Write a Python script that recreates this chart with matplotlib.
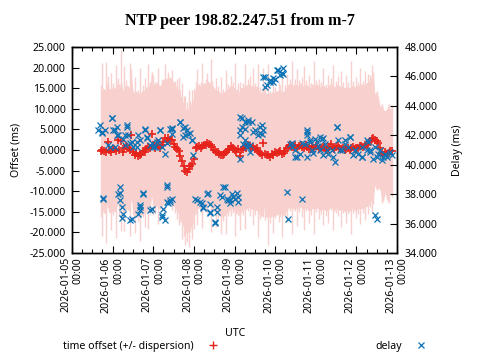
import numpy as np
import pandas as pd
import matplotlib
matplotlib.use('Agg')
import matplotlib.pyplot as plt
import matplotlib.dates as mdates
from matplotlib.lines import Line2D
from matplotlib.ticker import FormatStrFormatter, MultipleLocator

plt.rcParams['font.family'] = ['Noto Sans', 'DejaVu Sans']
plt.rcParams['font.size'] = 7.6

start = pd.Timestamp('2026-01-05 00:00')

# offset samples, hourly, hours since 2026-01-05 00:00 UTC
offset_hours = list(range(17, 190))
offset_ms = [
    -0.3, 0.1, -0.2, -0.6, 2.0, -0.1, -0.4, 0.3, 0.2, -0.3,    # 17-26
    2.5, 0.0, 2.3, -0.5, 0.4, 0.9, 0.5, 0.1, 3.6, -0.6,        # 27-36
    -1.2, -0.8, -1.5, -1.1, -1.0, -0.3, -0.6, 0.2, 0.8, 0.4,   # 37-46
    3.9, 1.3, 0.5, 1.6, 1.0, 0.6, 1.2, 2.0, 2.8, 2.2,          # 47-56
    3.0, 2.4, 2.5, 1.4, 0.8, 0.2, -0.3, -1.5, -2.7, -3.8,      # 57-66
    -5.0, -5.3, -4.5, -4.0, -3.5, -2.2, 0.5, 0.7, 0.9, 0.6,    # 67-76
    1.0, 1.2, 1.3, 1.8, 1.5, 1.1, 0.8, 0.1, -0.6, -0.4,        # 77-86
    -0.9, -1.3, -1.2, -0.9, -0.5, 0.0, 0.3, 0.9, 0.6, 0.1,     # 87-96
    -0.5, 0.2, -1.5, 0.0, 0.3, 0.8, 0.6, 1.2, 1.0, 0.6,        # 97-106
    0.8, 0.2, 0.5, -0.2, -0.8, -1.1, 1.8, -0.9, -1.3, -1.1,    # 107-116
    -1.6, -1.0, -1.2, -0.6, -0.8, -0.4, -0.3, -1.0, -0.8, -0.2,  # 117-126
    0.5, 1.0, 1.3, 0.7, 0.8, 1.2, 0.6, 0.9, 1.2, 0.7,          # 127-136
    0.5, 1.1, 0.8, 0.2, 0.3, 0.9, 0.6, 1.0, 0.9, 0.3,          # 137-146
    0.4, 0.8, 0.6, 0.1, 0.2, 0.7, 1.5, 0.6, 0.3, 0.8,          # 147-156
    1.0, 0.5, 0.2, 0.6, 0.0, 0.3, 0.4, 0.1, 0.6, 0.8,          # 157-166
    0.3, 0.6, 0.5, 1.0, 0.9, 0.7, 1.1, 1.3, 1.5, 2.2,          # 167-176
    2.7, 3.0, 2.5, 2.2, 1.8, 0.5, -0.8, -1.2, -0.5, -1.0,      # 177-186
    -0.8, -0.2, -0.3,                                          # 187-189
]
dispersion_ms = [
    16, 21, 15, 22, 16, 15, 19, 16, 15, 21,
    15, 16, 22, 15, 20, 16, 15, 21, 16, 15,
    19, 15, 16, 21, 15, 16, 18, 15, 20, 16,
    15, 17, 16, 15, 19, 15, 16, 15, 18, 15,
    16, 15, 17, 15, 16, 17, 18, 16, 19, 17,
    18, 17, 19, 16, 18, 17, 16, 19, 15, 16,
    20, 15, 16, 17, 15, 21, 16, 15, 18, 16,
    15, 19, 16, 15, 20, 16, 15, 17, 16, 21,
    15, 16, 18, 15, 16, 20, 15, 16, 17, 15,
    19, 16, 15, 21, 16, 15, 18, 16, 15, 22,
    16, 15, 19, 16, 15, 17, 16, 20, 15, 16,
    18, 15, 16, 21, 15, 16, 19, 16, 15, 17,
    20, 16, 15, 18, 16, 15, 21, 16, 15, 17,
    16, 19, 15, 16, 18, 15, 16, 20, 15, 16,
    17, 15, 19, 16, 15, 18, 16, 15, 21, 16,
    15, 17, 16, 19, 15, 16, 18, 15, 17, 16,
    18, 16, 11, 12, 11, 10, 12, 11, 10, 11,
    12, 10, 11,
]

# round trip delay samples (hours since start, ms)
delay_hours = [
    16.5, 17.5, 19.5, 22.5, 23.5, 21.4, 24.4, 26.4, 27.4, 25.4,
    30.3, 32.3, 33.3, 35.3, 36.2, 38.2, 39.2, 43.1, 44.1, 46.1,
    48.0, 50.0, 52.0, 53.0, 54.9, 57.9, 58.9, 31.3, 40.2, 50.8,
    15.5, 17.5, 23.4, 25.4, 26.4, 32.3, 31.3, 34.3, 38.2, 43.1,
    44.1, 47.1, 49.0, 52.0, 55.9, 58.9, 63.8, 65.8, 67.8, 69.7,
    70.7, 66.8,
    18.5, 28.4, 27.4, 28.4, 29.4, 30.3, 35.3, 42.1, 40.2, 40.2,
    39.2, 47.1, 53.0, 53.9, 55.9, 57.9, 55.9, 54.9, 58.9,
    18.5, 28.4, 29.4, 34.3, 42.1, 40.2, 46.1, 53.0, 55.9, 56.9,
    58.9, 63.8, 66.8, 68.7, 70.7, 65.8, 71.7, 99.3, 100.3, 99.3,
    101.2, 103.2, 99.3, 102.2,
    72.7, 75.6, 79.6, 77.6, 81.5, 84.5, 85.5, 87.4, 89.4, 91.4,
    94.4, 96.3, 98.3, 81.5, 93.3, 57.9,
    73.7, 76.6, 80.5, 77.6, 81.5, 84.5, 85.5, 88.4, 90.4, 92.3,
    95.3, 97.3, 93.3, 98.2,
    114.0, 117.0, 114.0, 119.9, 121.9, 124.8, 122.9, 118.9,
    113.0, 117.0, 120.9, 123.9, 115.0, 118.9, 124.8,
    104.2, 106.2, 102.2, 108.1, 111.1, 112.1, 110.1, 103.2, 105.2,
    100.3, 104.2, 99.3, 107.1, 111.1, 102.2, 105.2, 113.0, 112.1,
    128.8, 131.7, 134.7, 138.7, 138.7, 137.7, 140.6, 143.6, 146.5,
    138.7, 129.8, 131.7, 141.8, 145.3,
    138.7, 135.7, 140.6, 144.6, 148.5, 150.5, 154.4, 158.3, 161.3,
    164.2, 167.2, 171.2, 174.1, 176.1, 180.0, 183.0, 184.9, 146.5,
    142.6, 132.7, 129.8, 156.4,
    126.8, 136.1, 127.8,
    147.5, 149.5, 151.4, 156.4, 155.4, 159.3, 161.3, 164.2, 163.2,
    166.2, 169.1, 171.2, 175.1, 174.1, 178.0, 181.0, 183.9, 184.9,
    179.0, 187.9, 148.3, 153.6, 157.2, 167.2, 171.3, 176.1, 182.0,
    186.1, 189.0,
    179.0, 180.0,
]
delay_ms = [
    42.68, 42.22, 42.34, 41.20, 43.20, 41.32, 42.34, 42.56, 42.00, 41.20,
    41.77, 42.56, 42.00, 41.54, 41.20, 41.54, 42.00, 42.45, 41.88, 41.32,
    41.20, 41.54, 42.38, 41.20, 40.75, 42.45, 42.10, 41.34, 41.66, 41.66,
    42.36, 42.14, 43.15, 42.36, 42.02, 42.70, 42.02, 41.46, 41.23, 42.36,
    41.79, 41.46, 41.23, 42.36, 41.46, 42.48, 42.92, 42.48, 42.36, 42.14,
    41.68, 42.02,
    37.69, 38.49, 38.03, 37.58, 37.13, 36.67, 36.33, 38.03, 37.24, 36.90,
    36.67, 37.01, 36.56, 37.01, 37.47, 37.58, 38.60, 36.22, 37.69,
    37.72, 38.06, 36.36, 36.24, 38.06, 37.15, 36.92, 36.47, 38.51, 37.38,
    42.45, 42.90, 42.56, 42.10, 41.66, 41.88, 40.64, 43.24, 42.56, 42.00,
    41.43, 41.20, 40.41, 42.90,
    37.69, 37.47, 38.03, 37.13, 36.79, 36.11, 36.79, 37.92, 38.49, 37.69,
    38.03, 37.69, 37.81, 37.35, 37.58, 37.47,
    37.60, 37.38, 38.06, 37.04, 36.70, 36.02, 37.15, 37.83, 38.51, 37.60,
    37.83, 38.06, 37.38, 37.49,
    45.96, 45.74, 45.28, 45.85, 46.42, 46.19, 46.08, 45.62,
    45.98, 45.64, 46.44, 46.21, 45.42, 45.87, 46.55,
    43.02, 42.90, 42.45, 42.34, 42.56, 42.10, 42.00, 41.43, 40.86,
    43.15, 42.92, 42.36, 42.24, 42.14, 41.68, 41.34, 42.36, 42.70,
    41.43, 40.52, 40.75, 42.34, 42.00, 41.43, 41.54, 41.77, 41.88,
    40.52, 41.20, 41.00, 41.00, 41.30,
    42.24, 41.46, 41.68, 41.56, 41.79, 41.00, 40.55, 41.00, 41.68,
    41.90, 41.00, 40.55, 41.68, 41.00, 40.55, 40.32, 40.66, 41.00,
    40.78, 40.55, 41.46, 42.58,
    38.15, 37.65, 36.29,
    41.77, 41.43, 40.75, 42.56, 40.18, 40.98, 41.43, 41.88, 41.20,
    40.64, 40.75, 40.52, 41.54, 40.98, 40.41, 40.75, 40.52, 40.75,
    41.20, 40.86, 40.66, 41.00, 41.66, 41.00, 41.20, 40.86, 41.00,
    40.52, 40.66,
    36.56, 36.33,
]

t_off = start + pd.to_timedelta(offset_hours, unit='h')
t_del = start + pd.to_timedelta(delay_hours, unit='h')
off = np.array(offset_ms)
disp = np.array(dispersion_ms)
core = np.minimum(disp, 15)

red = '#e5231b'
blue = '#0b72b5'
pink = '#f8d1ce'

fig = plt.figure(figsize=(4.8, 3.6), dpi=100)
ax = fig.add_axes([72/480, 1-253/360, 325/480, 206/360])
ax2 = ax.twinx()

# dispersion drawn as error bars, with a filled core
ax.vlines(t_off, off - disp, off + disp, color=pink, lw=1.0)
ax.fill_between(t_off, off - core, off + core, color=pink, lw=0)
ax.plot(t_off, off, ls='none', marker='+', ms=6, mew=1.2, color=red)
ax2.plot(t_del, delay_ms, ls='none', marker='x', ms=5, mew=0.9, color=blue)

ax.set_xlim(pd.Timestamp('2026-01-05'), pd.Timestamp('2026-01-13'))
ax.set_ylim(-25, 25)
ax2.set_ylim(34, 48)

ax.xaxis.set_major_locator(mdates.DayLocator())
ax.xaxis.set_minor_locator(mdates.HourLocator(byhour=[6, 12, 18]))
ax.xaxis.set_major_formatter(mdates.DateFormatter('%Y-%m-%d\n%H:%M'))
ax.yaxis.set_major_locator(MultipleLocator(5))
ax.yaxis.set_major_formatter(FormatStrFormatter('%.3f'))
ax2.yaxis.set_major_locator(MultipleLocator(2))
ax2.yaxis.set_major_formatter(FormatStrFormatter('%.3f'))

for lbl in ax.get_xticklabels():
    lbl.set_rotation(90)
    lbl.set_ha('center')
    lbl.set_va('top')
    lbl.set_multialignment('right')

ax.tick_params(axis='x', which='both', direction='in', top=True, pad=3)
ax.tick_params(axis='x', which='major', length=5, width=0.8)
ax.tick_params(axis='x', which='minor', length=3, width=0.8)
ax.tick_params(axis='y', which='major', direction='in', length=5, width=0.8,
               right=False, pad=4.5)
ax2.tick_params(axis='y', direction='in', length=5, width=0.8, pad=5.5)
for a in (ax, ax2):
    for s in a.spines.values():
        s.set_linewidth(1.0)

ax.set_ylabel('Offset (ms)', labelpad=6)
ax2.set_ylabel('Delay (ms)', labelpad=10)
fig.text(235/480, 1-333/360, 'UTC', ha='center', va='center')

fig.suptitle('NTP peer 198.82.247.51 from m-7', y=1-21/360, va='center',
             family='Liberation Serif', fontweight='bold', fontsize=11.5)

handles = [Line2D([], [], ls='none', marker='+', ms=6, mew=1.0, color=red),
           Line2D([], [], ls='none', marker='x', ms=5, mew=0.9, color=blue)]
fig.legend(handles, ['time offset (+/- dispersion)', 'delay'], ncol=2,
           loc='center', bbox_to_anchor=(0.515, 1-346/360), frameon=False,
           markerfirst=False, handlelength=2, handletextpad=0.8,
           columnspacing=14.4)

fig.savefig('out.png', dpi=100)
